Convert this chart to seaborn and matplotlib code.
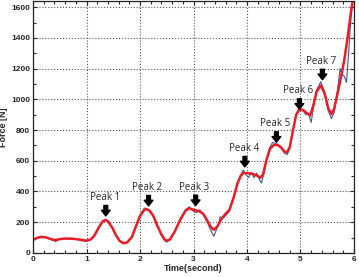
import matplotlib
matplotlib.use('Agg')
import matplotlib.pyplot as plt
import seaborn as sns
from matplotlib.ticker import MultipleLocator

# ==========================================
# DATA
# ==========================================

t_smooth = [0.00, 0.08, 0.16, 0.25, 0.35, 0.42, 0.50, 0.60, 0.70, 0.80,
            0.90, 1.00, 1.08, 1.15, 1.22, 1.30, 1.35, 1.40, 1.48, 1.55,
            1.62, 1.69, 1.76, 1.85, 1.92, 2.00, 2.08, 2.12, 2.18, 2.25,
            2.32, 2.40, 2.46, 2.50, 2.56, 2.65, 2.75, 2.85, 2.92, 3.00,
            3.10, 3.18, 3.25, 3.32, 3.38, 3.45, 3.52, 3.60, 3.67, 3.75,
            3.82, 3.88, 3.93, 4.00, 4.10, 4.18, 4.25, 4.30, 4.36, 4.43,
            4.50, 4.56, 4.63, 4.70, 4.75, 4.80, 4.86, 4.92, 4.98, 5.05,
            5.12, 5.18, 5.24, 5.30, 5.38, 5.45, 5.52, 5.58, 5.63, 5.70,
            5.76, 5.82, 5.88, 5.94, 6.00]
force_smooth = [85, 98, 105, 100, 88, 84, 90, 93, 93, 90,
                85, 80, 88, 115, 160, 205, 214, 205, 165, 115,
                78, 63, 68, 105, 170, 240, 280, 285, 275, 240,
                180, 120, 88, 79, 88, 140, 215, 275, 291, 280,
                273, 255, 215, 170, 150, 175, 220, 255, 280, 360,
                450, 500, 520, 520, 515, 505, 490, 510, 600, 680,
                702, 705, 690, 660, 655, 690, 800, 900, 935, 930,
                910, 895, 960, 1050, 1090, 1040, 940, 905, 940, 1050,
                1150, 1260, 1400, 1560, 1700]

t_raw = [0.00, 0.08, 0.16, 0.25, 0.35, 0.42, 0.50, 0.60, 0.70, 0.80,
         0.90, 1.00, 1.08, 1.15, 1.22, 1.30, 1.35, 1.40, 1.48, 1.55,
         1.62, 1.69, 1.76, 1.85, 1.92, 2.00, 2.08, 2.12, 2.18, 2.25,
         2.32, 2.40, 2.46, 2.50, 2.56, 2.65, 2.75, 2.85, 2.92, 3.00,
         3.06, 3.12, 3.18, 3.25, 3.32, 3.38, 3.45, 3.50, 3.56, 3.62,
         3.67, 3.75, 3.82, 3.88, 3.93, 3.98, 4.03, 4.08, 4.13, 4.18,
         4.23, 4.27, 4.32, 4.36, 4.43, 4.48, 4.56, 4.63, 4.70, 4.75,
         4.80, 4.86, 4.92, 4.98, 5.05, 5.10, 5.15, 5.20, 5.24, 5.30,
         5.38, 5.45, 5.52, 5.58, 5.63, 5.70, 5.74, 5.78, 5.82, 5.86,
         5.90, 5.94, 6.00]
force_raw = [82, 100, 108, 98, 85, 74, 88, 95, 90, 92,
             80, 76, 85, 112, 162, 208, 218, 207, 163, 112,
             75, 60, 66, 103, 172, 245, 292, 290, 270, 238,
             178, 115, 80, 70, 85, 142, 220, 280, 300, 270,
             262, 280, 250, 205, 150, 108, 170, 235, 228, 250,
             270, 365, 455, 505, 540, 510, 490, 525, 490, 520,
             480, 455, 520, 605, 690, 720, 708, 688, 650, 640,
             680, 795, 905, 945, 925, 900, 905, 850, 940, 1060,
             1115, 1050, 925, 875, 915, 1080, 1200, 1160, 1150, 1110,
             1300, 1520, 1720]

peak_labels = ['Peak 1', 'Peak 2', 'Peak 3', 'Peak 4',
               'Peak 5', 'Peak 6', 'Peak 7']
peak_time = [1.36, 2.16, 3.04, 3.96, 4.55, 4.98, 5.41]
peak_force = [241, 306, 308, 560, 721, 936, 1128]

# ==========================================
# FIGURE
# ==========================================

sns.set_style('ticks')
plt.rcParams['font.family'] = ['Liberation Sans', 'DejaVu Sans']

fig = plt.figure(figsize=(3.59, 2.77), dpi=100)
ax = fig.add_axes([0.092, 0.087, 0.894, 0.909])

sns.lineplot(
    x=t_raw,
    y=force_raw,
    color='#4b5290',
    linewidth=0.8,
    ax=ax
)

sns.lineplot(
    x=t_smooth,
    y=force_smooth,
    color='#ec1c24',
    linewidth=1.8,
    ax=ax
)

# peak arrows + labels
for lab, tx, fy in zip(peak_labels, peak_time, peak_force):
    ax.annotate(
        '',
        xy=(tx, fy),
        xytext=(tx, fy + 68),
        arrowprops=dict(
            arrowstyle='simple,head_length=0.45,head_width=0.7,tail_width=0.3',
            fc='black',
            ec='black',
            mutation_scale=9,
            shrinkA=0,
            shrinkB=0
        )
    )
    ax.text(
        tx - 0.02,
        fy + 85,
        lab,
        ha='center',
        va='bottom',
        fontsize=7,
        family=['Open Sans', 'DejaVu Sans']
    )

ax.set_xlim(0, 6)
ax.set_ylim(0, 1640)

ax.xaxis.set_major_locator(MultipleLocator(1))
ax.xaxis.set_minor_locator(MultipleLocator(0.2))
ax.yaxis.set_major_locator(MultipleLocator(200))
ax.yaxis.set_minor_locator(MultipleLocator(100))

ax.tick_params(which='both', direction='in', top=True, right=True,
               labelsize=6, pad=2, width=0.8)
ax.tick_params(which='major', length=3)
ax.tick_params(which='minor', length=2)
for lbl in ax.get_xticklabels() + ax.get_yticklabels():
    lbl.set_fontweight('bold')

ax.grid(True, which='major', linestyle=':', color='#555555', linewidth=0.8)

for sp in ax.spines.values():
    sp.set_linewidth(0.9)
    sp.set_color('#222222')

ax.set_xlabel('Time(second)', fontsize=6.5, fontweight='bold', labelpad=1)
ax.set_ylabel('Force [N]', fontsize=6.5, fontweight='bold', labelpad=2)

fig.savefig('out.png', dpi=100)
